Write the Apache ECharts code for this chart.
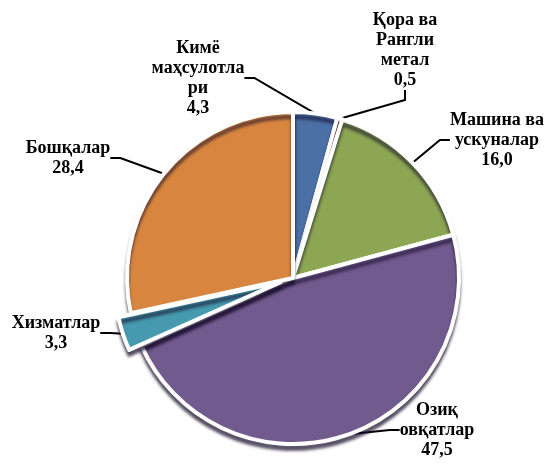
<!DOCTYPE html>
<html>
<head>
<meta charset="utf-8">
<script src="https://cdn.jsdelivr.net/npm/echarts@6/dist/echarts.min.js"></script>
<style>
  html, body { margin: 0; padding: 0; background: #fff; }
  #chart { width: 552px; height: 464px; }
</style>
</head>
<body>
<div id="chart"></div>
<script>
var categories = [
  'Кимё\nмаҳсулотла\nри',
  'Қора ва\nРангли\nметал',
  'Машина ва\nускуналар',
  'Озиқ\nовқатлар',
  'Хизматлар',
  'Бошқалар'
]
var values = [4.3, 0.5, 16.0, 47.5, 3.3, 28.4]
var colors = ['#4A70A6', '#B8433F', '#8CA653', '#715A8E', '#4699AF', '#D8863F']
var explodedIndex = 4

// where each label block sits (centre of the text)
var labelPos = [
  [198, 78],
  [405, 50],
  [497, 140],
  [437, 430],
  [56, 333],
  [68, 158]
]

var pieCenter = [293, 278]
var pieRadius = 166
var explodeDist = 13

// direction of the exploded slice, from its share of the whole
var total = 0
for (var i = 0; i < values.length; i++) total += values[i]
var before = 0
for (var i = 0; i < explodedIndex; i++) before += values[i]
var midAngle = (before + values[explodedIndex] / 2) / total * 2 * Math.PI
var explodedCenter = [
  pieCenter[0] + explodeDist * Math.sin(midAngle),
  pieCenter[1] - explodeDist * Math.cos(midAngle)
]

function buildData (onlyExploded) {
  var arr = []
  for (var i = 0; i < values.length; i++) {
    var visible = onlyExploded ? i === explodedIndex : i !== explodedIndex
    arr.push({
      name: categories[i],
      value: values[i],
      itemStyle: visible ? { color: colors[i] } : { opacity: 0, borderWidth: 0 },
      label: { show: visible },
      labelLine: { show: visible }
    })
  }
  return arr
}

var labelStyle = {
  show: true,
  position: 'outside',
  color: '#000',
  fontFamily: 'Liberation Serif',
  fontWeight: 'bold',
  fontSize: 18,
  lineHeight: 20,
  align: 'center',
  overflow: 'none',
  formatter: function (p) {
    return p.name + '\n' + p.value.toFixed(1).replace('.', ',')
  }
}

function placeLabel (params) {
  var pos = labelPos[params.dataIndex]
  return {
    x: pos[0],
    y: pos[1],
    align: 'center',
    verticalAlign: 'middle'
  }
}

function pieSeries (center, data, z) {
  return {
    type: 'pie',
    z: z,
    center: center,
    radius: pieRadius,
    startAngle: 90,
    clockwise: true,
    silent: true,
    data: data,
    itemStyle: {
      borderColor: '#fff',
      borderWidth: 4,
      shadowColor: 'rgba(20, 10, 40, 0.6)',
      shadowBlur: 3,
      shadowOffsetY: 5
    },
    emphasis: { disabled: true },
    label: labelStyle,
    labelLine: {
      show: true,
      length: 10,
      length2: 10,
      lineStyle: { color: '#000', width: 2 }
    },
    labelLayout: placeLabel
  }
}

var myChart = echarts.init(document.getElementById('chart'))
var option = {
  animation: false,
  series: [
    pieSeries(pieCenter, buildData(false), 2),
    pieSeries(explodedCenter, buildData(true), 3)
  ]
}
myChart.setOption(option)
</script>
</body>
</html>
